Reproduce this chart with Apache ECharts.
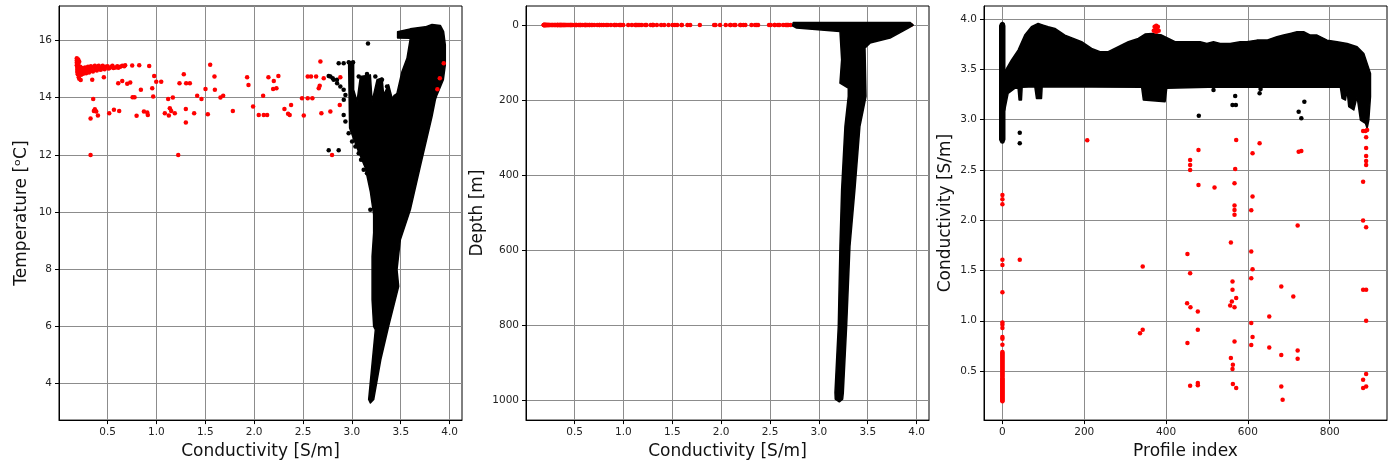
<!DOCTYPE html>
<html><head><meta charset="utf-8">
<script src="https://cdn.jsdelivr.net/npm/echarts@6/dist/echarts.min.js"></script>
<style>html,body{margin:0;padding:0;background:#fff}#c{width:1388px;height:465px}</style>
</head><body><div id="c"></div>
<script>
// ---------------- tick labels ----------------
const condTicks = [0.5, 1.0, 1.5, 2.0, 2.5, 3.0, 3.5, 4.0];
const tempTicks = [4, 6, 8, 10, 12, 14, 16];
const depthTicks = [0, 200, 400, 600, 800, 1000];
const profileTicks = [0, 200, 400, 600, 800];
const cond3Ticks = [0.5, 1.0, 1.5, 2.0, 2.5, 3.0, 3.5, 4.0];

// ---------------- panel 1 : conductivity vs temperature ----------------
// outline of the dense black (good) data cloud, [conductivity, temperature]
const goodCloudTC = [[3.468,16.31],[3.598,16.41],[3.752,16.48],[3.82,16.56],[3.905,16.53],[3.939,16.31],[3.956,15.85],[3.956,15.15],[3.936,14.63],[3.871,14.10],[3.854,13.93],[3.82,13.34],[3.70,11.59],[3.598,10.08],[3.496,9.03],[3.462,7.98],[3.479,7.40],[3.376,6.00],[3.296,4.84],[3.223,3.44],[3.189,3.32],[3.172,3.44],[3.24,5.88],[3.223,6.0],[3.207,6.93],[3.207,8.45],[3.223,9.27],[3.223,9.91],[3.189,10.72],[3.138,11.54],[3.053,12.24],[2.977,12.94],[2.967,15.15],[2.967,15.27],[3.018,15.24],[3.018,14.28],[3.053,13.87],[3.087,14.74],[3.189,14.80],[3.207,13.87],[3.258,14.63],[3.309,14.69],[3.325,14.10],[3.376,14.45],[3.411,13.99],[3.462,14.16],[3.513,14.92],[3.564,15.38],[3.598,16.08],[3.468,16.09]];
// isolated black points [conductivity, temperature]
const blackTC = [[3.165,15.9],[2.865,15.21],[2.916,15.21],[2.968,15.24],[3.012,15.24],[2.763,14.76],[2.804,14.68],[2.848,14.63],[2.780,14.74],[2.814,14.63],[2.849,14.51],[2.882,14.39],[2.916,14.28],[2.934,14.10],[2.917,13.93],[2.916,13.40],[2.934,13.17],[2.967,12.76],[3.002,12.47],[3.036,12.29],[3.070,12.06],[3.094,11.83],[3.121,11.48],[2.763,12.16],[2.865,12.16],[3.189,10.08],[3.257,10.43],[3.223,10.9],[3.155,11.36],[3.07,14.74],[3.155,14.83],[3.24,14.74],[3.308,14.63],[3.36,14.39],[3.445,14.04],[3.12,14.22],[3.257,14.04]];
// red (flagged) points [conductivity, temperature]
const redTC = [[0.185,15.38],[0.185,15.30],[0.185,15.22],[0.185,15.14],[0.19,15.06],[0.19,14.98],[0.19,14.90],[0.195,14.82],[0.2,15.34],[0.2,15.18],[0.2,15.0],[0.205,14.72],[0.21,14.66],[0.21,15.26],[0.215,14.88],[0.22,15.08],[0.225,14.62],[0.23,14.8],[0.23,14.96],[0.24,15.04],[0.24,14.9],[0.25,14.84],[0.26,14.98],[0.27,15.06],[0.27,14.9],[0.28,14.86],[0.29,15.0],[0.30,15.08],[0.30,14.92],[0.31,14.88],[0.32,15.02],[0.33,15.1],[0.34,14.94],[0.35,14.92],[0.36,15.06],[0.37,15.12],[0.38,14.98],[0.39,14.95],[0.40,15.08],[0.41,15.12],[0.42,15.0],[0.43,14.98],[0.44,15.05],[0.45,15.12],[0.46,15.02],[0.47,15.0],[0.48,15.08],[0.50,15.1],[0.51,15.02],[0.52,15.04],[0.54,15.08],[0.55,15.12],[0.56,15.04],[0.58,15.06],[0.60,15.1],[0.61,15.05],[0.63,15.08],[0.65,15.12],[0.67,15.1],[0.68,15.14],
 [0.343,14.63],[0.353,13.96],[0.326,13.27],[0.370,13.60],[0.384,13.52],[0.401,13.38],[0.36,13.54],[0.326,12.0],[0.462,14.72],[0.517,13.46],[0.565,13.58],[0.609,14.51],[0.619,13.54],[0.650,14.59],[0.701,14.49],[0.732,14.53],[0.752,15.13],[0.756,14.02],[0.776,14.02],[0.797,13.37],[0.824,15.14],[0.841,14.28],[0.872,13.52],[0.906,13.48],[0.912,13.40],[0.926,15.11],[0.957,14.33],[0.967,14.04],[0.977,14.76],[0.998,14.56],[1.049,14.56],[1.086,13.46],[1.120,13.96],[1.127,13.38],[1.137,13.63],[1.151,13.54],[1.168,14.01],[1.188,13.46],[1.223,12.0],[1.236,14.51],[1.280,14.82],[1.301,13.61],[1.301,13.13],[1.304,14.51],[1.342,14.51],[1.386,13.46],[1.417,14.07],[1.461,13.96],[1.502,14.31],[1.526,13.42],[1.550,15.15],[1.594,14.74],[1.598,14.28],[1.655,14.01],[1.683,14.07],[1.782,13.54],[1.928,14.72],[1.942,14.45],[1.989,13.69],[2.047,13.40],[2.092,14.07],[2.098,13.40],[2.133,13.40],[2.146,14.72],[2.194,14.31],[2.201,14.59],[2.228,14.33],[2.248,14.76],[2.310,13.61],[2.347,13.44],[2.364,13.40],[2.378,13.75],[2.490,13.98],[2.508,13.38],[2.548,13.98],[2.548,14.74],[2.582,14.74],[2.596,13.98],[2.634,14.74],[2.661,14.33],[2.671,14.42],[2.678,15.27],[2.688,13.46],[2.712,14.68],[2.780,13.52],[2.876,13.75],[2.882,14.72],[2.797,12.0],[3.94,15.21],[3.90,14.68],[3.875,14.30]];

// ---------------- panel 2 : conductivity vs depth ----------------
const goodCloudCD = [[2.738,-7.1],[3.932,-7.1],[3.966,0],[3.915,8.0],[3.728,34.6],[3.523,48.0],[3.472,61.3],[3.482,190.0],[3.455,225.6],[3.420,270],[3.369,438.7],[3.318,589.7],[3.284,802.8],[3.250,980.5],[3.243,998.2],[3.209,1005.3],[3.168,998.2],[3.165,980.5],[3.199,802.8],[3.216,589.7],[3.233,438.7],[3.267,270],[3.301,190.0],[3.301,167.8],[3.216,154.5],[3.233,92.4],[3.216,16.9],[2.772,8.0],[2.731,1.8]];
const redSurfaceDepth = 0; // every red point of panel 2 lies at the surface

// ---------------- panel 3 : profile index vs conductivity ----------------
const goodBandPC = [[5.7,3.474],[22.0,3.590],[38.4,3.689],[54.7,3.838],[71.0,3.921],[87.3,3.954],[99.6,3.937],[111.8,3.921],[128.2,3.904],[152.7,3.838],[173.1,3.805],[193.5,3.772],[218.0,3.706],[238.4,3.673],[258.8,3.673],[283.3,3.722],[307.8,3.772],[332.2,3.805],[348.6,3.848],[364.9,3.854],[389.4,3.838],[405.7,3.805],[422.0,3.772],[446.5,3.772],[458.8,3.772],[483.3,3.772],[499.6,3.755],[515.9,3.772],[532.2,3.755],[556.7,3.755],[581.2,3.772],[597.6,3.772],[622.0,3.788],[646.5,3.788],[671.0,3.821],[687.3,3.838],[703.7,3.854],[720.0,3.871],[736.3,3.871],[752.7,3.838],[769.0,3.838],[793.5,3.788],[818.0,3.772],[842.4,3.755],[866.9,3.722],[883.3,3.656],[891.4,3.557],[899.6,3.457],[899.6,3.226],[895.5,2.994],[891.4,2.912],[887.3,2.961],[875.1,2.994],[866.9,3.226],[858.8,3.094],[846.5,3.127],[842.4,3.292],[838.4,3.193],[830.2,3.209],[826.1,3.319],[626.1,3.319],[503.7,3.319],[401.6,3.309],[397.6,3.176],[344.5,3.193],[340.4,3.319],[97.1,3.325],[95.5,3.209],[83.3,3.209],[79.2,3.325],[48.2,3.319],[46.5,3.193],[40.8,3.193],[38.4,3.309],[30.2,3.309],[13.9,3.259],[5.7,3.094]];
const firstProfilePC = [[-6.5,3.93],[-4,3.955],[0,3.965],[4,3.955],[5.7,3.93],[5.7,2.8],[3,2.77],[0,2.765],[-3,2.77],[-6.5,2.8]];
const blackPC = [[515.9,3.292],[480.0,3.037],[569.0,3.233],[562.4,3.143],[570.6,3.143],[628.6,3.259],[631.0,3.302],[724.1,3.077],[730.6,3.011],[738.0,3.176],[42.4,2.869],[42.4,2.763]];
// red conductivities of profile 0
const redFirstProfileCond = [2.25,2.207,2.157,1.605,1.555,1.284,0.983,0.96,0.927,0.838,0.82,0.762,0.69,0.68,0.67,0.66,0.65,0.64,0.63,0.62,0.61,0.60,0.59,0.58,0.57,0.56,0.55,0.54,0.53,0.52,0.51,0.50,0.49,0.48,0.47,0.46,0.45,0.44,0.43,0.42,0.41,0.40,0.39,0.38,0.37,0.36,0.35,0.34,0.33,0.32,0.31,0.30,0.29,0.28,0.27,0.26,0.25,0.24,0.23,0.22,0.21,0.20];
const redFirstProfileIdx = 0;
// other red points [profile index, conductivity]
const redPC = [[372,3.92],[376,3.93],[380,3.92],[374,3.89],[378,3.89],[370,3.88],[382,3.88],[376,3.87],
 [42.4,1.605],[207.3,2.793],[336.3,0.877],[342.9,0.910],[342.9,1.539],[452.2,1.664],[452.2,0.778],[451.4,1.175],[458.8,2.597],[458.8,2.548],[458.8,2.498],[458.8,1.473],[459.6,1.135],[458.8,0.355],[479.2,2.697],[479.2,2.349],[477.6,1.092],[477.6,0.910],[477.6,0.381],[477.6,0.358],[518.4,2.323],[558.4,1.777],[558.4,0.629],[562.4,1.390],[562.4,1.307],[560.8,1.191],[556.7,1.152],[563.3,0.563],[562.4,0.520],[563.3,0.371],[567.3,2.366],[567.3,2.144],[567.3,2.101],[567.3,2.052],[567.3,1.135],[567.3,0.795],[569.0,2.508],[571.4,2.796],[571.4,1.225],[571.4,0.331],[608.2,2.098],[608.2,1.688],[608.2,1.423],[608.2,0.977],[608.2,0.758],[611.4,2.664],[611.4,2.234],[611.4,1.512],[611.4,0.838],[628.6,2.763],[652.2,1.043],[652.2,0.735],[681.6,1.340],[681.6,0.659],[681.6,0.348],[684.9,0.216],[711.0,1.241],[721.6,1.946],[721.6,0.705],[721.6,0.623],[724.1,2.680],[730.6,2.687],
 [881.6,2.885],[887.3,2.885],[891.4,2.895],[889.0,2.822],[889.0,2.717],[889.0,2.637],[889.0,2.588],[889.0,2.548],[881.6,2.382],[881.6,1.995],[889.0,1.929],[881.6,1.307],[889.0,1.307],[889.0,1.000],[889.0,0.470],[881.6,0.414],[881.6,0.331],[889.0,0.348]];

// ---------------- chart ----------------
const FONT = 'DejaVu Sans';

function axis(extra, ticks, dec, name, gap) {
  return Object.assign({
    type: 'value', name: name, nameLocation: 'middle', nameGap: gap,
    nameTextStyle: {fontSize: 17, fontFamily: FONT, color: '#111'},
    axisLine: {show: true, onZero: false, lineStyle: {color: '#000', width: 1}},
    axisTick: {show: true, inside: false, length: 4, lineStyle: {color: '#000'}, customValues: ticks},
    splitLine: {show: true, lineStyle: {color: '#8c8c8c', width: 1}},
    axisLabel: {color: '#222', fontSize: 10.5, fontFamily: FONT, margin: 7, customValues: ticks,
      formatter: v => dec ? Number(v).toFixed(dec) : String(Math.round(v))}
  }, extra);
}

function cloud(xi, pts, z) {
  return {
    type: 'custom', coordinateSystem: 'cartesian2d', xAxisIndex: xi, yAxisIndex: xi,
    data: [pts[0]], silent: true, z: z, clip: true,
    renderItem: function (params, api) {
      return {type: 'polygon', shape: {points: pts.map(p => api.coord(p))},
        style: {fill: '#000', stroke: '#000', lineWidth: 1.5, lineJoin: 'round'}};
    }
  };
}
function dots(xi, data, color, z) {
  return {type: 'scatter', xAxisIndex: xi, yAxisIndex: xi, data: data, symbolSize: 4.5, z: z,
    silent: true, itemStyle: {color: color, opacity: 1}, animation: false};
}

const chart = echarts.init(document.getElementById('c'), null, {renderer: 'canvas'});
chart.setOption({
  animation: false,
  backgroundColor: '#fff',
  grid: [
    {left: 59, top: 6, width: 403, height: 415, show: true, borderColor: '#000', borderWidth: 1, containLabel: false},
    {left: 526, top: 6, width: 403, height: 415, show: true, borderColor: '#000', borderWidth: 1, containLabel: false},
    {left: 984, top: 6, width: 403, height: 415, show: true, borderColor: '#000', borderWidth: 1, containLabel: false}
  ],
  xAxis: [
    axis({gridIndex: 0, min: 0.003, max: 4.127, splitNumber: 8}, condTicks, 1, 'Conductivity [S/m]', 22),
    axis({gridIndex: 1, min: 0.003, max: 4.127, splitNumber: 8}, condTicks, 1, 'Conductivity [S/m]', 22),
    axis({gridIndex: 2, min: -45, max: 940, splitNumber: 5}, profileTicks, 0, 'Profile index', 22)
  ],
  yAxis: [
    axis({gridIndex: 0, min: 2.72, max: 17.21, splitNumber: 7}, tempTicks, 0, 'Temperature [ᵒC]', 29),
    axis({gridIndex: 1, min: -51, max: 1054, splitNumber: 5, inverse: true}, depthTicks, 0, 'Depth [m]', 40),
    axis({gridIndex: 2, min: 0.013, max: 4.127, splitNumber: 8}, cond3Ticks, 1, 'Conductivity [S/m]', 30)
  ],
  series: [
    cloud(0, goodCloudTC, 2),
    dots(0, blackTC, '#000', 3),
    dots(0, redTC, '#ff0000', 4),
    dots(1, redTC.map(p => [p[0], redSurfaceDepth]), '#ff0000', 1),
    cloud(1, goodCloudCD, 2),
    cloud(2, goodBandPC, 2),
    cloud(2, firstProfilePC, 2),
    dots(2, blackPC, '#000', 3),
    dots(2, redFirstProfileCond.map(c => [redFirstProfileIdx, c]), '#ff0000', 4),
    dots(2, redPC, '#ff0000', 4)
  ]
});
</script></body></html>
